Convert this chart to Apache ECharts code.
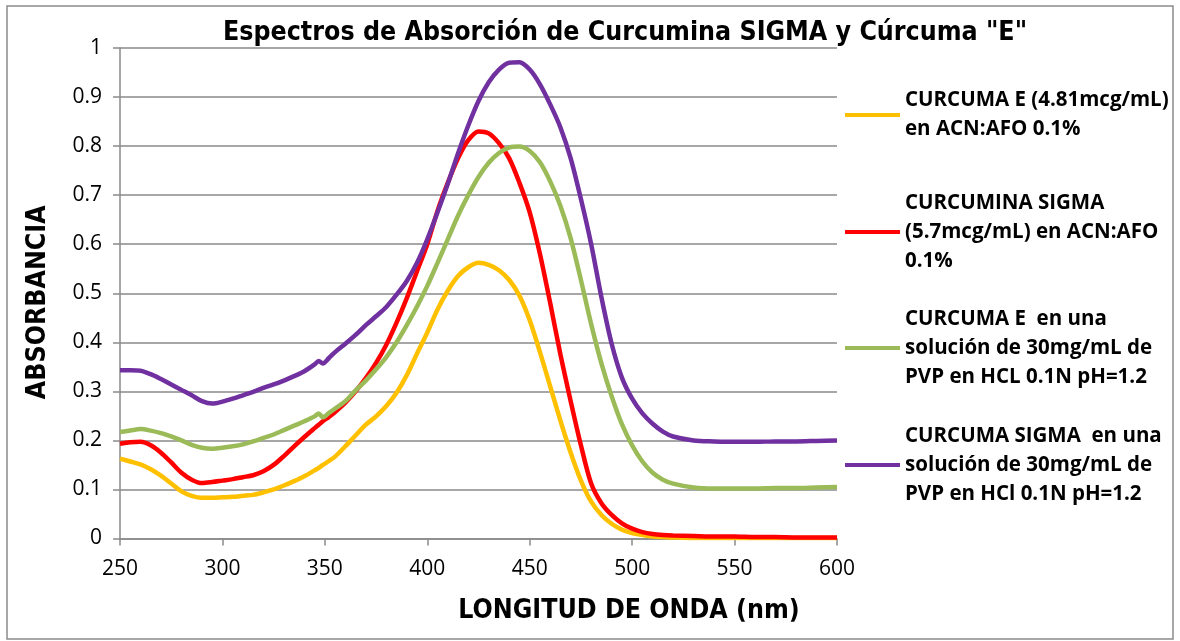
<!DOCTYPE html>
<html>
<head>
<meta charset="utf-8">
<script src="https://cdn.jsdelivr.net/npm/echarts@6/dist/echarts.min.js"></script>
<style>
  html, body { margin: 0; padding: 0; background: #fff; }
  #main { width: 1180px; height: 641px; }
</style>
</head>
<body>
<div id="main"></div>
<script>
// longitud de onda (nm)
var wl = [250,255,260,265,270,275,280,285,290,295,300,305,310,315,320,325,330,335,340,345,347,349,352,
  355,360,365,370,375,380,385,390,395,400,405,410,415,420,425,430,435,440,445,450,455,460,465,470,475,
  480,485,490,495,500,505,510,515,520,530,540,550,560,570,580,590,600];

// CURCUMA E (4.81mcg/mL) en ACN:AFO 0.1%
var curcumaE_acn = [0.163,0.157,0.151,0.141,0.128,0.112,0.096,0.087,0.083,0.083,0.084,0.085,0.087,0.089,0.094,0.100,0.108,0.117,0.127,0.139,0.144,0.150,0.158,
  0.167,0.188,0.210,0.232,0.249,0.270,0.297,0.333,0.377,0.420,0.467,0.505,0.535,0.553,0.562,0.558,0.547,0.527,0.495,0.445,0.380,0.310,0.240,0.175,0.118,
  0.075,0.048,0.030,0.018,0.011,0.007,0.004,0.003,0.002,0.001,0.001,0.001,0.001,0.001,0.001,0.001,0.001];

// CURCUMINA SIGMA (5.7mcg/mL) en ACN:AFO 0.1%
var curcuminaSigma_acn = [0.193,0.196,0.197,0.190,0.175,0.155,0.134,0.120,0.113,0.115,0.118,0.121,0.125,0.129,0.137,0.150,0.168,0.188,0.207,0.225,0.232,0.239,0.248,
  0.258,0.277,0.300,0.327,0.358,0.395,0.440,0.490,0.545,0.600,0.668,0.725,0.775,0.812,0.830,0.826,0.806,0.775,0.725,0.665,0.580,0.480,0.375,0.280,0.190,
  0.112,0.072,0.048,0.031,0.020,0.013,0.009,0.007,0.006,0.005,0.004,0.004,0.003,0.003,0.002,0.002,0.002];

// CURCUMA E en PVP
var curcumaE_pvp = [0.217,0.220,0.223,0.220,0.215,0.208,0.200,0.191,0.185,0.183,0.185,0.188,0.192,0.198,0.205,0.212,0.221,0.230,0.239,0.249,0.255,0.247,0.256,
  0.265,0.280,0.302,0.322,0.345,0.370,0.400,0.435,0.473,0.515,0.562,0.610,0.658,0.700,0.737,0.766,0.786,0.797,0.799,0.790,0.767,0.728,0.678,0.612,0.527,
  0.437,0.357,0.290,0.233,0.190,0.157,0.134,0.120,0.112,0.104,0.102,0.102,0.102,0.103,0.103,0.104,0.105];

// CURCUMA SIGMA en PVP
var curcumaSigma_pvp = [0.343,0.343,0.342,0.335,0.325,0.314,0.303,0.292,0.280,0.275,0.279,0.285,0.292,0.299,0.307,0.314,0.322,0.331,0.341,0.355,0.362,0.357,0.368,
  0.380,0.397,0.415,0.435,0.453,0.472,0.497,0.525,0.562,0.610,0.665,0.723,0.785,0.842,0.892,0.930,0.956,0.970,0.971,0.956,0.926,0.885,0.838,0.775,0.692,
  0.600,0.492,0.397,0.328,0.285,0.255,0.234,0.218,0.208,0.200,0.198,0.197,0.197,0.198,0.198,0.199,0.200];

var seriesNames = [
  'CURCUMA E (4.81mcg/mL)\nen ACN:AFO 0.1%',
  'CURCUMINA SIGMA\n(5.7mcg/mL) en ACN:AFO\n0.1%',
  'CURCUMA E  en una\nsolución de 30mg/mL de\nPVP en HCL 0.1N pH=1.2',
  'CURCUMA SIGMA  en una\nsolución de 30mg/mL de\nPVP en HCl 0.1N pH=1.2'
];
var seriesValues = [curcumaE_acn, curcuminaSigma_acn, curcumaE_pvp, curcumaSigma_pvp];
var colors = ['#FFC000', '#FF0000', '#9BBB59', '#7030A0'];
var legendIconY = [115, 232, 348, 465];

var chart = echarts.init(document.getElementById('main'));

var gridColor = '#8a8a8a';
var lineH = 29;
var boldFont = 'DejaVu Sans Condensed, sans-serif';

// una leyenda por serie, para colocar cada una como en el original
var legends = seriesNames.map(function (name, i) {
  var n = name.split('\n').length;
  return {
    data: [name],
    left: 845,
    top: legendIconY[i] - (2 * n - 1) * lineH / 2,
    padding: 0,
    orient: 'vertical',
    icon: 'rect',
    itemWidth: 55,
    itemHeight: 4,
    selectedMode: false,
    textStyle: {
      fontFamily: 'Open Sans',
      fontWeight: 'bold',
      fontSize: 20.5,
      color: '#000',
      lineHeight: lineH,
      padding: [(n - 1) * lineH, 0, 0, 0]
    }
  };
});

var option = {
  animation: false,
  color: colors,
  title: {
    text: 'Espectros de Absorción de Curcumina SIGMA y Cúrcuma "E"',
    left: 218,
    top: 15,
    textStyle: {
      fontFamily: boldFont,
      fontWeight: 'bold',
      fontSize: 26.5,
      color: '#000'
    }
  },
  legend: legends,
  grid: { left: 120, right: 343, top: 48, bottom: 102.5 },
  graphic: [{
    type: 'rect',
    shape: { x: 7, y: 6, width: 1166, height: 633 },
    style: { fill: 'none', stroke: '#8c8c8c', lineWidth: 1.5 },
    silent: true
  }],
  xAxis: {
    type: 'value',
    min: 250,
    max: 600,
    interval: 50,
    name: 'LONGITUD DE ONDA (nm)',
    nameLocation: 'middle',
    nameGap: 59,
    nameTextStyle: {
      fontFamily: boldFont,
      fontWeight: 'bold',
      fontSize: 26.5,
      color: '#000',
      padding: [0, 0, 0, 301]
    },
    axisLine: { lineStyle: { color: gridColor, width: 1.5 } },
    axisTick: { show: true, length: 7, lineStyle: { color: gridColor, width: 1.5 } },
    axisLabel: { fontFamily: 'Open Sans', fontSize: 21, color: '#000', margin: 20 },
    splitLine: { show: false }
  },
  yAxis: {
    type: 'value',
    min: 0,
    max: 1,
    interval: 0.1,
    name: 'ABSORBANCIA',
    nameLocation: 'middle',
    nameGap: 68,
    nameTextStyle: {
      fontFamily: boldFont,
      fontWeight: 'bold',
      fontSize: 26.5,
      color: '#000',
      padding: [0, 18, 0, 0]
    },
    axisLine: { show: true, lineStyle: { color: gridColor, width: 1.5 } },
    axisTick: { show: true, length: 7, lineStyle: { color: gridColor, width: 1.5 } },
    axisLabel: { fontFamily: 'Open Sans', fontSize: 21, color: '#000', margin: 18 },
    splitLine: { lineStyle: { color: gridColor, width: 1.5 } }
  },
  series: seriesNames.map(function (name, i) {
    return {
      name: name,
      type: 'line',
      smooth: 0.3,
      showSymbol: false,
      lineStyle: { width: 4.5, color: colors[i] },
      itemStyle: { color: colors[i] },
      data: wl.map(function (x, k) { return [x, seriesValues[i][k]]; })
    };
  })
};

chart.setOption(option);
</script>
</body>
</html>
